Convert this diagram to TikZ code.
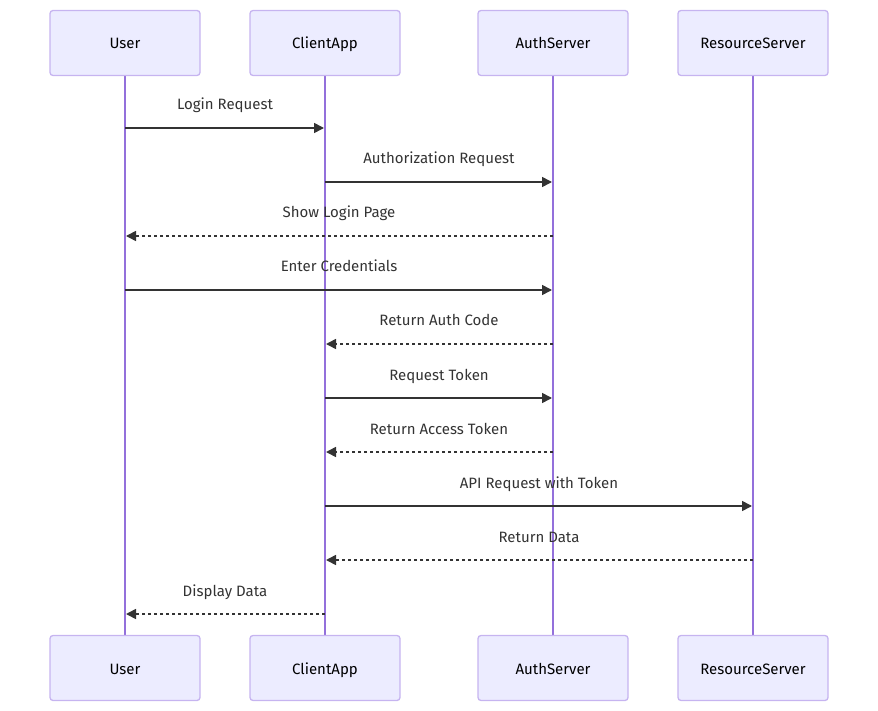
\documentclass[tikz,border=0pt]{standalone}
\usepackage{fontspec}
\setmainfont{Fira Sans}
\usetikzlibrary{arrows.meta,calc}
\definecolor{actfill}{HTML}{ECECFF}
\definecolor{actborder}{HTML}{C6B4F0}
\definecolor{lifeline}{HTML}{9370DB}
\definecolor{msg}{HTML}{333333}
\tikzset{
  actor/.style={draw=actborder, fill=actfill, line width=1.3pt, rounded corners=3pt,
    minimum width=150pt, minimum height=65pt, inner sep=0pt, text height=15pt, text depth=3pt,
    font=\fontsize{15}{18}\selectfont, text=black},
  life/.style={draw=lifeline, line width=2pt},
  call/.style={draw=msg, line width=1.6pt, -{Triangle[length=10pt,width=10pt]}, shorten >=1pt},
  reply/.style={call, dash pattern=on 3pt off 3pt},
  lbl/.style={font=\fontsize{15}{18}\selectfont, text=msg, inner sep=0pt, text height=11pt, text depth=3pt}
}
\begin{document}
\begin{tikzpicture}[x=1pt,y=-1pt]
\useasboundingbox (0,0) rectangle (878,711);
\foreach \n/\x/\t in {U/125/User, C/325/ClientApp, A/553/AuthServer, R/753/ResourceServer}{
  \coordinate (\n top) at (\x,75);
  \coordinate (\n bot) at (\x,635);
  \draw[life] (\n top) -- (\n bot);
  \node[actor] (\n h) at (\x,43) {\t};
  \node[actor] (\n f) at (\x,668) {\t};
}
\foreach \a/\b/\y/\s/\t in {
  U/C/128/call/Login Request,
  C/A/182/call/Authorization Request,
  A/U/236/reply/Show Login Page,
  U/A/290/call/Enter Credentials,
  A/C/344/reply/Return Auth Code,
  C/A/398/call/Request Token,
  A/C/452/reply/Return Access Token,
  C/R/506/call/API Request with Token,
  R/C/560/reply/Return Data,
  C/U/614/reply/Display Data}{
  \coordinate (s) at (\a top |- 0,\y);
  \coordinate (e) at (\b top |- 0,\y);
  \draw[\s] (s) -- (e);
  \node[lbl] at ($(s)!0.5!(e)+(0,-22)$) {\t};
}
\end{tikzpicture}
\end{document}
